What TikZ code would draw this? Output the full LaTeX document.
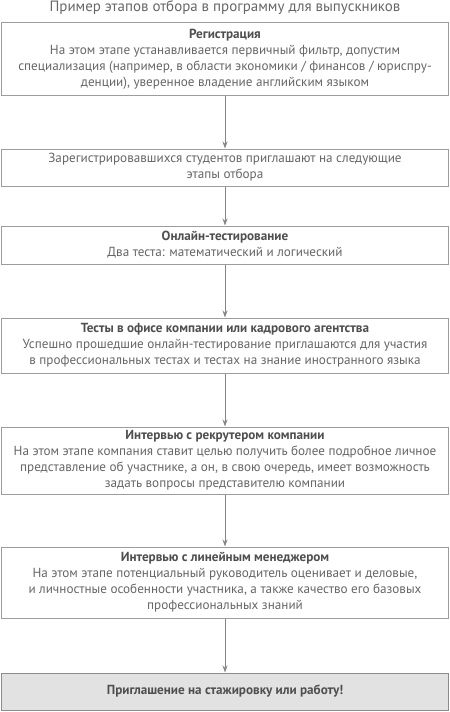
\documentclass[tikz,border=0pt]{standalone}
\usepackage{fontspec}
\setmainfont{PT Sans}
\usepackage{tikz}
\usetikzlibrary{arrows.meta,positioning}
\usepackage{xcolor}
\definecolor{txt}{HTML}{666666}
\definecolor{head}{HTML}{4F4F4F}
\definecolor{frame}{HTML}{9C9C9C}
\definecolor{finalfill}{HTML}{E2E2E2}

\tikzset{
  stage/.style={draw=frame,line width=1bp,fill=white,minimum width=446bp,
    inner sep=1bp,align=center,text=txt,font=\fontsize{13.2}{16}\selectfont},
  finalstage/.style={stage,fill=finalfill,draw=frame!90!black},
  flow/.style={draw=frame!85!black,line width=0.9bp,-{Stealth[length=7bp,width=5bp]}}
}
\newcommand{\stagehead}[1]{{\bfseries\color{head}#1}}

\begin{document}
\begin{tikzpicture}[x=1bp,y=1bp]
  \useasboundingbox (0,0) rectangle (450,-712);
  % заголовок
  \node[text=txt,font=\fontsize{15}{16}\selectfont] (title) at (225,-8)
    {Пример этапов отбора в программу для выпускников};
  % этапы
  \node[stage,minimum height=73bp] (reg) at (225,-59.5)
    {\stagehead{Регистрация}\\
     На этом этапе устанавливается первичный фильтр, допустим\\
     специализация (например, в области экономики / финансов / юриспру-\\
     денции), уверенное владение английским языком};
  \node[stage,minimum height=37bp] (invite) at (225,-167.5)
    {Зарегистрировавшихся студентов приглашают на следующие\\
     этапы отбора};
  \node[stage,minimum height=38bp] (online) at (225,-245)
    {\stagehead{Онлайн-тестирование}\\
     Два теста: математический и логический};
  \node[stage,minimum height=55bp] (office) at (225,-345.5)
    {\stagehead{Тесты в офисе компании или кадрового агентства}\\
     Успешно прошедшие онлайн-тестирование приглашаются для участия\\
     в профессиональных тестах и тестах на знание иностранного языка};
  \node[stage,minimum height=67bp] (recruit) at (225,-460.5)
    {\stagehead{Интервью с рекрутером компании}\\
     На этом этапе компания ставит целью получить более подробное личное\\
     представление об участнике, а он, в свою очередь, имеет возможность\\
     задать вопросы представителю компании};
  \node[stage,minimum height=71bp] (manager) at (225,-582.5)
    {\stagehead{Интервью с линейным менеджером}\\
     На этом этапе потенциальный руководитель оценивает и деловые,\\
     и личностные особенности участника, а также качество его базовых\\
     профессиональных знаний};
  \node[finalstage,minimum height=37bp] (offer) at (225,-691.5)
    {\stagehead{Приглашение на стажировку или работу!}};
  % стрелки
  \draw[flow] (reg) -- (invite);
  \draw[flow] (invite) -- (online);
  \draw[flow] (online) -- (office);
  \draw[flow] (office) -- (recruit);
  \draw[flow] (recruit) -- (manager);
  \draw[flow] (manager) -- (offer);
\end{tikzpicture}
\end{document}
